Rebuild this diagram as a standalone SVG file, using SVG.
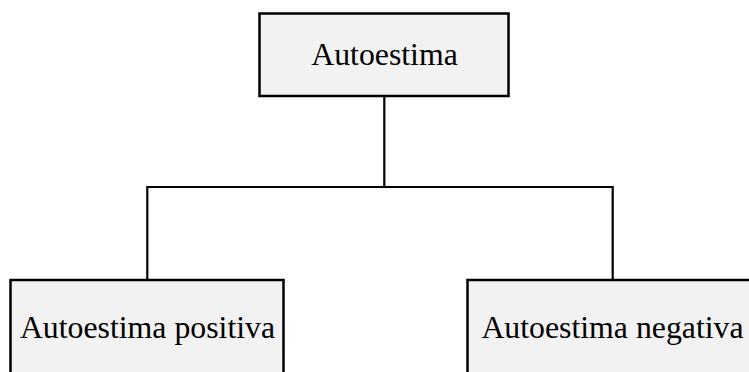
<svg xmlns="http://www.w3.org/2000/svg" width="749" height="372" viewBox="0 0 749 372">
<style>
.box{fill:#f2f2f2;stroke:#000;stroke-width:2.5}
.lbl{font-family:"Liberation Serif","Times New Roman",serif;font-size:31.8px;fill:#000;text-anchor:middle}
.conn{fill:none;stroke:#000;stroke-width:2.2}
</style>
<rect width="749" height="372" fill="#fff"/>
<g id="connectors">
<polyline class="conn" points="384.3,96 384.3,187 147.3,187 147.3,280"/>
<polyline class="conn" points="384.3,187 612.7,187 612.7,280"/>
</g>
<g id="node-autoestima">
<rect class="box" x="259.5" y="13.5" width="249" height="82.5"/>
<text class="lbl" x="384.5" y="64.5">Autoestima</text>
</g>
<g id="node-positiva">
<rect class="box" x="10.5" y="280" width="273" height="100"/>
<text class="lbl" x="147.5" y="338">Autoestima positiva</text>
</g>
<g id="node-negativa">
<rect class="box" x="467.5" y="280" width="290" height="100"/>
<text class="lbl" x="612.5" y="338">Autoestima negativa</text>
</g>
</svg>
